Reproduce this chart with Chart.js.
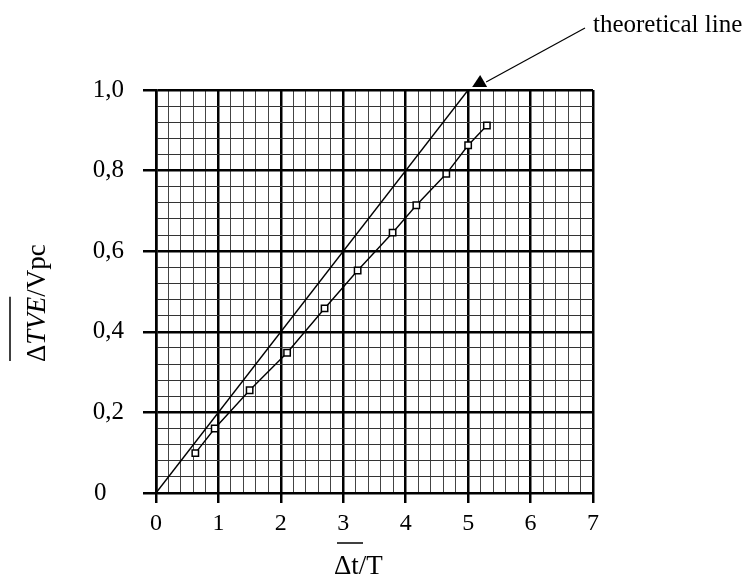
<!DOCTYPE html>
<html>
<head>
<meta charset="utf-8">
<script src="https://cdn.jsdelivr.net/npm/chart.js@4.4.1/dist/chart.umd.min.js"></script>
<style>
  body { margin: 0; background: #fff; }
  #wrap { width: 756px; height: 581px; }
</style>
</head>
<body>
<div id="wrap"><canvas id="chart" width="756" height="581"></canvas></div>
<script>
// measured points
const measuredX = [0.63, 0.94, 1.5, 2.1, 2.7, 3.23, 3.79, 4.17, 4.65, 5.0, 5.3];
const measuredY = [0.099, 0.16, 0.255, 0.348, 0.458, 0.552, 0.646, 0.714, 0.792, 0.863, 0.912];

// theoretical line
const theoryX = [0, 5];
const theoryY = [0, 1.0];

// axes
const xMin = 0, xMax = 7, xMinor = 0.2;
const yMin = 0, yMax = 1.0, yMinor = 0.04, yMajor = 0.2;

const annotationText = 'theoretical line';
const serif = '"Liberation Serif", "DejaVu Serif", serif';

function isMajorX(v) {
    return Math.abs(v - Math.round(v)) < 1e-6;
}
function isMajorY(v) {
    const k = v / yMajor;
    return Math.abs(k - Math.round(k)) < 1e-6;
}

// draws axis titles (with overline) and the arrow label
const extrasPlugin = {
    id: 'extras',
    afterDraw(chart) {
        const ctx = chart.ctx;
        const xs = chart.scales.x, ys = chart.scales.y;
        ctx.save();
        ctx.fillStyle = '#000';
        ctx.strokeStyle = '#000';

        // x title
        ctx.font = '27px ' + serif;
        ctx.textBaseline = 'alphabetic';
        ctx.textAlign = 'left';
        ctx.fillText('\u0394t/T', 334, 574);
        ctx.lineWidth = 1.5;
        ctx.beginPath();
        ctx.moveTo(337, 543);
        ctx.lineTo(363, 543);
        ctx.stroke();

        // y title, rotated
        ctx.translate(45, 362);
        ctx.rotate(-Math.PI / 2);
        let px = 0;
        ctx.font = '27px ' + serif;
        ctx.fillText('\u0394', px, 0);
        px += ctx.measureText('\u0394').width;
        ctx.font = 'italic 27px ' + serif;
        ctx.fillText('TVE', px, 0);
        px += ctx.measureText('TVE').width;
        const barEnd = px;
        ctx.font = '27px ' + serif;
        ctx.fillText('/Vpc', px, 0);
        ctx.beginPath();
        ctx.moveTo(1, -35);
        ctx.lineTo(barEnd, -35);
        ctx.stroke();
        ctx.setTransform(1, 0, 0, 1, 0, 0);

        // arrow to the end of the theoretical line
        const ex = xs.getPixelForValue(theoryX[1]);
        const ey = ys.getPixelForValue(theoryY[1]);
        ctx.lineWidth = 1.2;
        ctx.beginPath();
        ctx.moveTo(585, 28);
        ctx.lineTo(ex + 18, ey - 8);
        ctx.stroke();
        ctx.beginPath();
        ctx.moveTo(ex + 12, ey - 15);
        ctx.lineTo(ex + 4, ey - 3);
        ctx.lineTo(ex + 19, ey - 3);
        ctx.closePath();
        ctx.fill();

        ctx.font = '25px ' + serif;
        ctx.textAlign = 'left';
        ctx.fillText(annotationText, 593, 32);
        ctx.restore();
    }
};

const ctx = document.getElementById('chart').getContext('2d');
const chart = new Chart(ctx, {
    type: 'scatter',
    data: {
        datasets: [
            {
                label: 'measured',
                data: measuredX.map((x, i) => ({ x: x, y: measuredY[i] })),
                showLine: true,
                borderColor: '#000',
                borderWidth: 1.4,
                pointStyle: 'rect',
                pointRadius: 4.5,
                pointBackgroundColor: '#fff',
                pointBorderColor: '#000',
                pointBorderWidth: 1.5
            },
            {
                label: 'theoretical',
                data: theoryX.map((x, i) => ({ x: x, y: theoryY[i] })),
                showLine: true,
                borderColor: '#000',
                borderWidth: 1.4,
                pointRadius: 0
            }
        ]
    },
    options: {
        responsive: false,
        animation: false,
        layout: { padding: { top: 90, right: 163, left: 0, bottom: 0 } },
        plugins: {
            legend: { display: false },
            tooltip: { enabled: false }
        },
        scales: {
            x: {
                type: 'linear',
                min: xMin,
                max: xMax,
                afterFit: s => { s.height = 88; },
                border: { display: true, color: '#000', width: 2 },
                grid: {
                    color: c => isMajorX(c.tick.value) ? '#000' : '#444',
                    lineWidth: c => isMajorX(c.tick.value) ? 2.5 : 1,
                    tickColor: c => isMajorX(c.tick.value) ? '#000' : 'rgba(0,0,0,0)',
                    tickWidth: 2.5,
                    tickLength: 10
                },
                ticks: {
                    stepSize: xMinor,
                    autoSkip: false,
                    maxRotation: 0,
                    padding: 6,
                    color: '#000',
                    font: { family: serif, size: 24 },
                    callback: v => isMajorX(v) ? String(Math.round(v)) : ''
                }
            },
            y: {
                type: 'linear',
                min: yMin,
                max: yMax,
                afterFit: s => { s.width = 156; },
                border: { display: true, color: '#000', width: 2.5 },
                grid: {
                    color: c => isMajorY(c.tick.value) ? '#000' : '#333',
                    lineWidth: c => isMajorY(c.tick.value) ? 2.5 : 1,
                    tickColor: c => isMajorY(c.tick.value) ? '#000' : 'rgba(0,0,0,0)',
                    tickWidth: 2.5,
                    tickLength: 13
                },
                ticks: {
                    stepSize: yMinor,
                    autoSkip: false,
                    padding: 19,
                    color: '#000',
                    font: { family: serif, size: 25 },
                    callback: v => {
                        if (!isMajorY(v)) return '';
                        if (Math.abs(v) < 1e-6) return '0\u2002\u2009';
                        return v.toFixed(1).replace('.', ',');
                    }
                }
            }
        }
    },
    plugins: [extrasPlugin]
});
</script>
</body>
</html>
